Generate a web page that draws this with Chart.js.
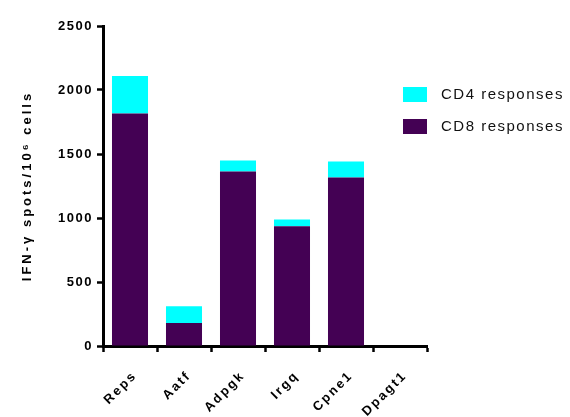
<!DOCTYPE html>
<html>
<head>
<meta charset="utf-8">
<script src="https://cdn.jsdelivr.net/npm/chart.js@4.4.1/dist/chart.umd.min.js"></script>
<style>
  html, body { margin: 0; padding: 0; background: #fff; }
  #wrap { width: 570px; height: 417px; }
</style>
</head>
<body>
<div id="wrap"><canvas id="chart-grafico-1"></canvas></div>
<script>
const genes = ['Reps', 'Aatf', 'Adpgk', 'Irgq', 'Cpne1', 'Dpagt1'];
const cd8Responses = [1817, 179, 1363, 935, 1316, 0];
const cd4Responses = [293, 132, 86, 54, 125, 0];
const yTicks = [0, 500, 1000, 1500, 2000, 2500];

// wrap a scale draw step so it uses its own letter spacing
const withSpacing = (scale, method, px) => {
  const orig = scale[method];
  scale[method] = function () {
    this.ctx.letterSpacing = px;
    orig.call(this);
    this.ctx.letterSpacing = '1.5px';
  };
};

const spacing = {
  id: 'spacing',
  beforeUpdate: (chart) => { chart.ctx.letterSpacing = '1.5px'; },
  beforeDraw: (chart) => {
    chart.ctx.letterSpacing = '1.5px';
    if (!chart._spaced) {
      withSpacing(chart.scales.y, 'drawTitle', '3px');
      withSpacing(chart.scales.x, 'drawLabels', '2.2px');
      chart._spaced = true;
    }
  }
};

// legend drawn by hand so it sits exactly right of the plot
const sideLegend = {
  id: 'sideLegend',
  afterDraw: (chart) => {
    const ctx = chart.ctx;
    const sets = chart.data.datasets.slice().reverse();
    ctx.save();
    ctx.letterSpacing = '1.5px';
    ctx.font = '15px "Liberation Sans", Arial, sans-serif';
    ctx.textBaseline = 'middle';
    sets.forEach((ds, i) => {
      const y = 87 + i * 32;
      ctx.fillStyle = ds.backgroundColor;
      ctx.fillRect(403, y, 24, 15);
      ctx.fillStyle = '#111';
      ctx.fillText(ds.label, 441, y + 8);
    });
    ctx.restore();
  }
};

const axisGrid = { display: true, drawOnChartArea: false, drawTicks: true, tickLength: 6, tickWidth: 2.5, color: '#000' };
const axisBorder = { display: true, width: 3, color: '#000' };
const tickFont = { family: '"Liberation Sans", Arial, sans-serif', size: 13, weight: 'bold' };

const ctx = document.getElementById('chart-grafico-1');
new Chart(ctx, {
  type: 'bar',
  data: {
    labels: genes,
    datasets: [
      {
        label: 'CD8 responses',
        data: cd8Responses,
        backgroundColor: '#440154'
      },
      {
        label: 'CD4 responses',
        data: cd4Responses,
        backgroundColor: '#00FFFF'
      }
    ]
  },
  options: {
    responsive: true,
    maintainAspectRatio: false,
    animation: false,
    categoryPercentage: 1,
    barPercentage: 0.667,
    layout: { padding: { top: 26, right: 143, left: 0, bottom: 0 } },
    plugins: { legend: { display: false }, tooltip: { enabled: false } },
    scales: {
      x: {
        stacked: true,
        grid: axisGrid,
        border: axisBorder,
        afterFit: (scale) => { scale.height = 71; },
        ticks: { color: '#000', font: tickFont, minRotation: 45, maxRotation: 45, autoSkip: false, padding: 16, labelOffset: 5 }
      },
      y: {
        stacked: true,
        min: 0,
        max: 2500,
        grid: axisGrid,
        border: axisBorder,
        afterFit: (scale) => { scale.width = 103; },
        afterBuildTicks: (scale) => { scale.ticks = yTicks.map(v => ({ value: v })); },
        ticks: { color: '#000', font: tickFont, padding: 4, callback: (v) => String(v) },
        title: {
          display: true,
          text: 'IFN-γ spots/10⁶ cells',
          color: '#000',
          font: { family: '"Liberation Sans", Arial, sans-serif', size: 13, weight: 'bold' },
          padding: { top: 20, bottom: 0 }
        }
      }
    }
  },
  plugins: [spacing, sideLegend]
});
</script>
</body>
</html>
